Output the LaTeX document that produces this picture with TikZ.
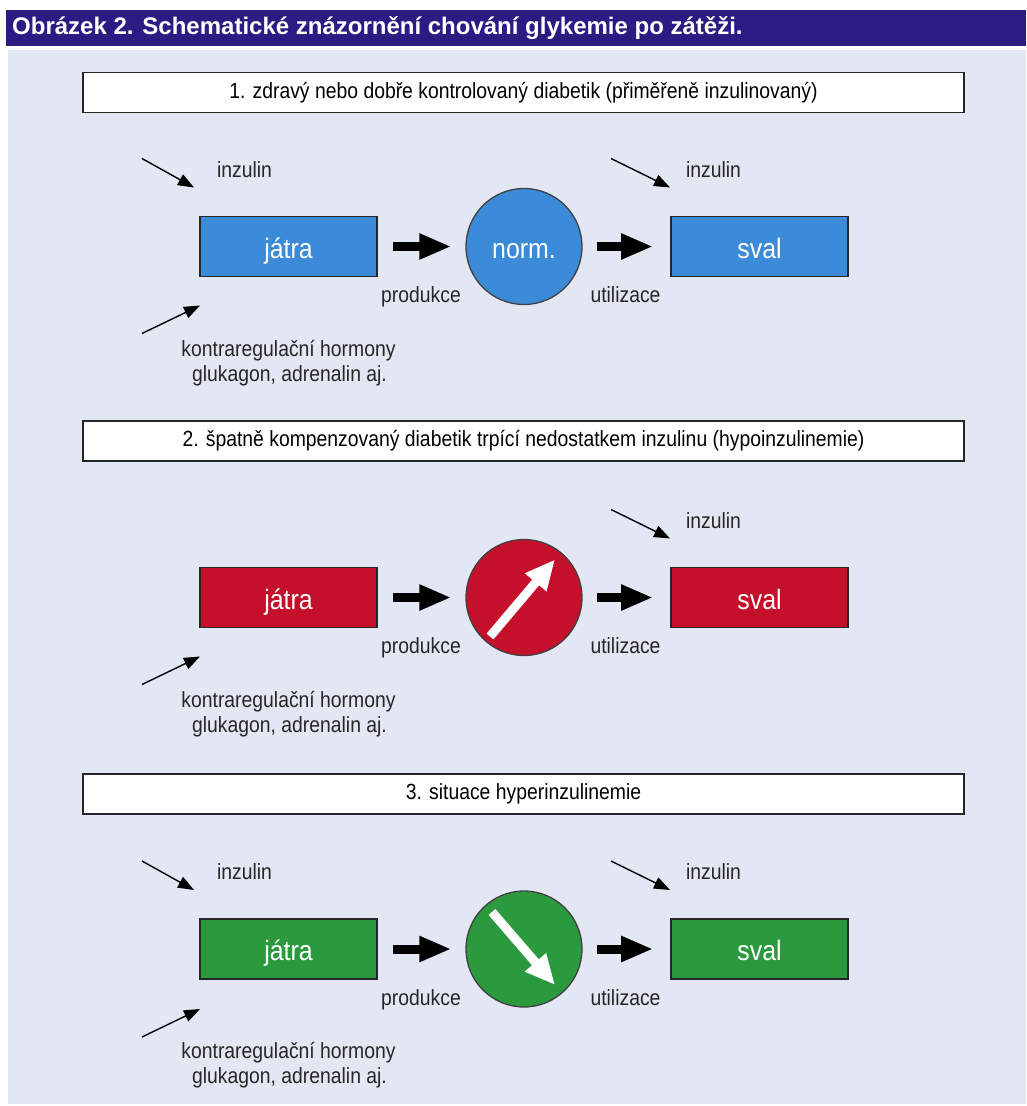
\documentclass[tikz,border=0pt]{standalone}
\usepackage{fontspec}
\setmainfont{Liberation Sans}
\newfontfamily\nar[FakeStretch=0.88]{Liberation Sans}
\newfontfamily\bigfam[FakeStretch=0.89]{Liberation Sans}
\newfontfamily\hdr[FakeStretch=1.0]{Liberation Sans}
\usetikzlibrary{arrows.meta}
\definecolor{bgc}{HTML}{E2E7F3}
\definecolor{hdrc}{HTML}{2D1B84}
\definecolor{bluec}{HTML}{3B8BD9}
\definecolor{redc}{HTML}{C4102B}
\definecolor{greenc}{HTML}{2B9A3F}
\begin{document}
\begin{tikzpicture}[x=1pt,y=-1pt,
  organ/.style={draw=black!85, line width=1.7pt, minimum width=177pt, minimum height=60pt, inner sep=0pt, text=white, text height=25pt, text depth=1.4pt, font=\bigfam\fontsize{28pt}{30pt}\selectfont},
  level/.style={circle, draw=black!75, line width=1.3pt, minimum size=116pt, inner sep=0pt, text=white, text height=25pt, text depth=1.4pt, font=\bigfam\fontsize{28pt}{30pt}\selectfont},
  titlebox/.style={draw=black!85, line width=1.7pt, fill=white, minimum width=881pt, minimum height=40pt, inner sep=0pt, font=\nar\fontsize{22pt}{24pt}\selectfont},
  lbl/.style={font=\nar\fontsize{22pt}{24pt}\selectfont, inner sep=0pt, text=black!85, anchor=mid},
  flow/.style={line width=9pt, -{Triangle[length=32pt,width=24pt]}, black},
  hint/.style={line width=1.4pt, -{Triangle[length=16pt,width=12pt]}, black},
  updown/.style={line width=9pt, white, -{Triangle[length=30pt,width=26pt]}}
]
\useasboundingbox (0,0) rectangle (1026,1106);
\fill[hdrc] (6,10) rectangle (1026,46);
\node[anchor=west, text=white, inner sep=0pt, font=\hdr\bfseries\fontsize{24pt}{26pt}\selectfont] (header) at (12,28) {Obrázek 2. Schematické znázornění chování glykemie po zátěži.};
\fill[bgc] (8,50) rectangle (1026,1104);

% ---------- panel 1 ----------
\node[titlebox] (t1) at (523.5,92.5) {1. zdravý nebo dobře kontrolovaný diabetik (přiměřeně inzulinovaný)};
\node[organ, fill=bluec] (j1) at (288.5,246.5) {játra};
\node[level, fill=bluec] (c1) at (524,246.5) {norm.};
\node[organ, fill=bluec] (s1) at (759.5,246.5) {sval};
\draw[flow] ([xshift=15pt]j1.east) -- ([xshift=-14pt]c1.west);
\draw[flow] ([xshift=14pt]c1.east) -- ([xshift=-17pt]s1.west);
\node[lbl] (p1) at (421,300) {produkce};
\node[lbl] (u1) at (625.5,300) {utilizace};
\node[lbl] (il1) at (244.5,174.5) {inzulin};
\node[lbl] (ir1) at (713.5,174.5) {inzulin};
\coordinate (al1a) at (142,158.5); \coordinate (al1b) at (194,187.5);
\coordinate (ar1a) at (611,158.5); \coordinate (ar1b) at (670,187.5);
\coordinate (ab1a) at (142,333.5); \coordinate (ab1b) at (200,305.5);
\draw[hint] (al1a) -- (al1b);
\draw[hint] (ar1a) -- (ar1b);
\draw[hint] (ab1a) -- (ab1b);
\node[lbl] (k1) at (288.5,353.5) {kontraregulační hormony};
\node[lbl] (g1) at (289.5,378.5) {glukagon, adrenalin aj.};

% ---------- panel 2 ----------
\node[titlebox] (t2) at (523.5,441) {2. špatně kompenzovaný diabetik trpící nedostatkem inzulinu (hypoinzulinemie)};
\node[organ, fill=redc] (j2) at (288.5,597.5) {játra};
\node[level, fill=redc] (c2) at (524,597.5) {};
\node[organ, fill=redc] (s2) at (759.5,597.5) {sval};
\draw[flow] ([xshift=15pt]j2.east) -- ([xshift=-14pt]c2.west);
\draw[flow] ([xshift=14pt]c2.east) -- ([xshift=-17pt]s2.west);
\draw[updown] ([shift={(-34,39)}]c2.center) -- ([shift={(31,-38)}]c2.center);
\node[lbl] (p2) at (421,651) {produkce};
\node[lbl] (u2) at (625.5,651) {utilizace};
\node[lbl] (ir2) at (713.5,525.5) {inzulin};
\coordinate (ar2a) at (611,509.5); \coordinate (ar2b) at (670,538.5);
\coordinate (ab2a) at (142,684.5); \coordinate (ab2b) at (200,656.5);
\draw[hint] (ar2a) -- (ar2b);
\draw[hint] (ab2a) -- (ab2b);
\node[lbl] (k2) at (288.5,704.5) {kontraregulační hormony};
\node[lbl] (g2) at (289.5,729.5) {glukagon, adrenalin aj.};

% ---------- panel 3 ----------
\node[titlebox] (t3) at (523.5,794) {3. situace hyperinzulinemie};
\node[organ, fill=greenc] (j3) at (288.5,949) {játra};
\node[level, fill=greenc] (c3) at (524,949) {};
\node[organ, fill=greenc] (s3) at (759.5,949) {sval};
\draw[flow] ([xshift=15pt]j3.east) -- ([xshift=-14pt]c3.west);
\draw[flow] ([xshift=14pt]c3.east) -- ([xshift=-17pt]s3.west);
\draw[updown] ([shift={(-32,-37)}]c3.center) -- ([shift={(31,36)}]c3.center);
\node[lbl] (p3) at (421,1002.5) {produkce};
\node[lbl] (u3) at (625.5,1002.5) {utilizace};
\node[lbl] (il3) at (244.5,877) {inzulin};
\node[lbl] (ir3) at (713.5,877) {inzulin};
\coordinate (al3a) at (142,861); \coordinate (al3b) at (194,890);
\coordinate (ar3a) at (611,861); \coordinate (ar3b) at (670,890);
\coordinate (ab3a) at (142,1037); \coordinate (ab3b) at (200,1009);
\draw[hint] (al3a) -- (al3b);
\draw[hint] (ar3a) -- (ar3b);
\draw[hint] (ab3a) -- (ab3b);
\node[lbl] (k3) at (288.5,1056) {kontraregulační hormony};
\node[lbl] (g3) at (289.5,1081) {glukagon, adrenalin aj.};
\end{tikzpicture}
\end{document}
